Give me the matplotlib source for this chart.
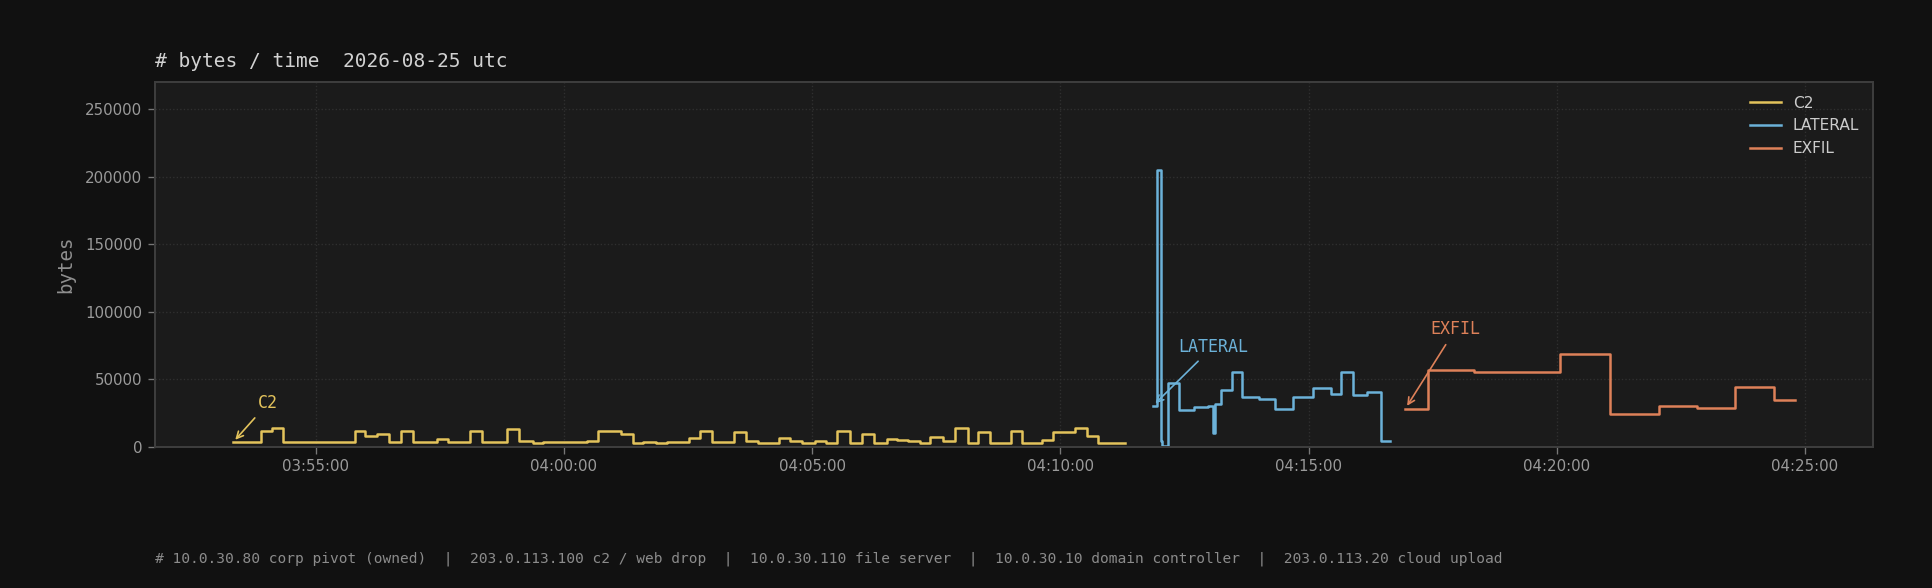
import matplotlib
matplotlib.use("Agg")
import matplotlib.pyplot as plt
import matplotlib.dates as mdates
import pandas as pd

day = "2026-08-25 "

c2_times = ["03:53:20", "03:53:54", "03:54:07", "03:54:20", "03:55:47", "03:56:00",
            "03:56:14", "03:56:29", "03:56:43", "03:56:58", "03:57:26", "03:57:40",
            "03:58:07", "03:58:21", "03:58:51", "03:59:06", "03:59:22", "03:59:35",
            "04:00:00", "04:00:28", "04:00:41", "04:01:09", "04:01:23", "04:01:36",
            "04:01:51", "04:02:04", "04:02:31", "04:02:44", "04:02:59", "04:03:26",
            "04:03:40", "04:03:54", "04:04:20", "04:04:33", "04:04:48", "04:05:03",
            "04:05:17", "04:05:30", "04:05:46", "04:06:00", "04:06:15", "04:06:30",
            "04:06:43", "04:06:56", "04:07:10", "04:07:23", "04:07:38", "04:07:53",
            "04:08:08", "04:08:21", "04:08:35", "04:09:00", "04:09:14", "04:09:38",
            "04:09:51", "04:10:18", "04:10:32", "04:10:45", "04:11:18"]
c2_bytes = [3300, 11400, 14100, 3300, 11400, 7700,
            9200, 3300, 11400, 3300, 5700, 3300,
            11400, 3300, 13400, 4000, 2800, 3800,
            3300, 4000, 11400, 9700, 2800, 3800,
            2800, 3800, 6700, 11400, 3300, 10700,
            4000, 2800, 6700, 4000, 2800, 4000,
            2800, 11400, 2800, 9700, 2800, 5900,
            5200, 4000, 2800, 7200, 4000, 14100,
            2800, 11100, 2800, 11900, 2800, 5200,
            11100, 14100, 8200, 2800, 2800]

lat_times = ["04:11:52", "04:11:57", "04:12:02", "04:12:03", "04:12:10", "04:12:24",
             "04:12:42", "04:12:59", "04:13:05", "04:13:07", "04:13:14", "04:13:27",
             "04:13:40", "04:14:00", "04:14:20", "04:14:41", "04:15:06", "04:15:27",
             "04:15:39", "04:15:54", "04:16:11", "04:16:28", "04:16:38"]
lat_bytes = [30400, 204800, 4200, 500, 47500, 27200,
             29500, 30400, 10400, 31400, 42100, 55400,
             37100, 35600, 28200, 37100, 43800, 39300,
             55700, 38600, 40800, 4200, 4200]

exf_times = ["04:16:57", "04:17:25", "04:18:20", "04:20:04", "04:21:05",
             "04:22:04", "04:22:50", "04:23:36", "04:24:23", "04:24:48"]
exf_bytes = [28200, 56900, 55700, 68600, 24300,
             30400, 28900, 44300, 34900, 34900]

labels = ["C2", "LATERAL", "EXFIL"]
colors = ["#e3c35c", "#6cb2d9", "#de8159"]
footer = ("# 10.0.30.80 corp pivot (owned)  |  203.0.113.100 c2 / web drop  |  "
          "10.0.30.110 file server  |  10.0.30.10 domain controller  |  203.0.113.20 cloud upload")

series = [(c2_times, c2_bytes), (lat_times, lat_bytes), (exf_times, exf_bytes)]

fig = plt.figure(figsize=(16.1, 4.9), dpi=120, facecolor="#111111")
ax = fig.add_axes([0.0802, 0.2403, 0.8893, 0.6202])
ax.set_facecolor("#1b1b1b")

for i, (ts, vals) in enumerate(series):
    x = pd.to_datetime([day + t for t in ts])
    ax.plot(x, vals, drawstyle="steps-post", color=colors[i], lw=1.5, label=labels[i])
    ax.annotate(labels[i], xy=(x[0], vals[0]), xytext=(15, 20.5 + 12 * i),
                textcoords="offset points", color=colors[i], fontsize=10,
                family="DejaVu Sans Mono",
                arrowprops=dict(arrowstyle="->", color=colors[i], lw=1.0))

ax.set_ylim(0, max(lat_bytes) * 1.32)
ax.xaxis.set_major_locator(mdates.MinuteLocator(byminute=range(0, 60, 5)))
ax.xaxis.set_major_formatter(mdates.DateFormatter("%H:%M:%S"))

ax.grid(True, color="#303030", linestyle=":", linewidth=0.8)
for s in ax.spines.values():
    s.set_color("#3d3d3d")
    s.set_linewidth(1.2)
ax.tick_params(colors="#777777", labelcolor="#9a9a9a", labelsize=9, length=4)

ax.set_ylabel("bytes", color="#8f8f8f", fontsize=11.5, family="DejaVu Sans Mono",
              labelpad=6)
ax.set_title("# bytes / time  2026-08-25 utc", loc="left", color="#d2d2d2",
             fontsize=11.7, family="DejaVu Sans Mono", pad=9)

leg = ax.legend(loc="upper right", frameon=False, fontsize=9.2)
for t in leg.get_texts():
    t.set_color("#cccccc")

fig.text(0.0802, 0.049, footer, color="#8c8c8c", fontsize=8.7,
         family="DejaVu Sans Mono", va="center", ha="left")

fig.savefig("out.png", dpi=120, facecolor=fig.get_facecolor())
